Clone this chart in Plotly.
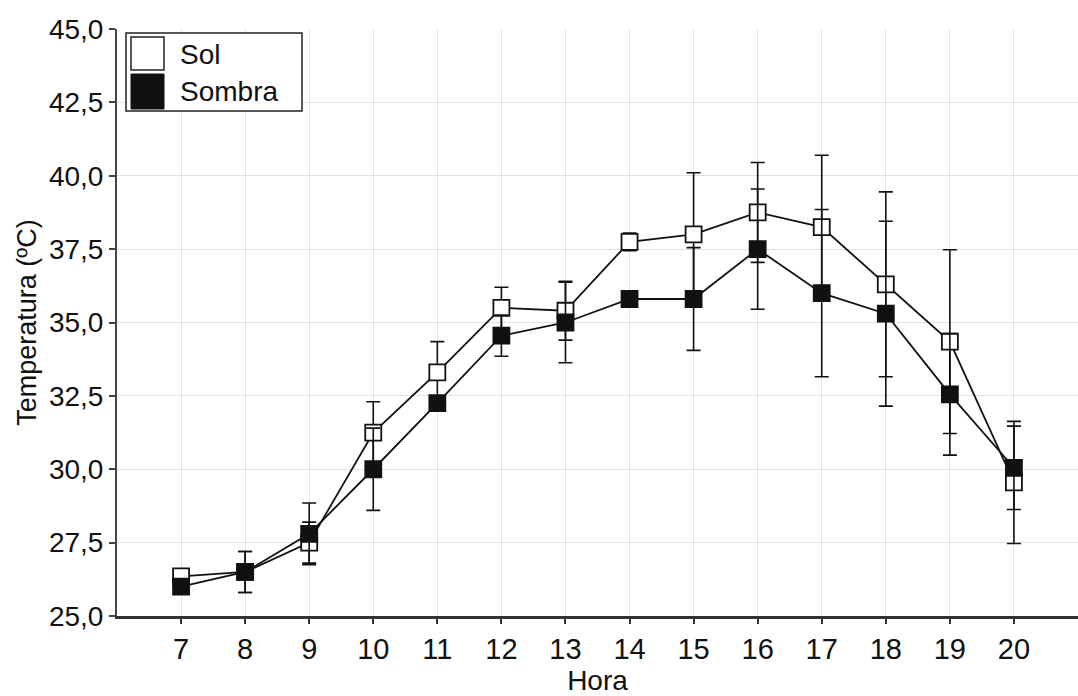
import plotly.graph_objects as go

# ---- data ----
hora = [7, 8, 9, 10, 11, 12, 13, 14, 15, 16, 17, 18, 19, 20]
sol = [26.35, 26.5, 27.5, 31.25, 33.3, 35.5, 35.4, 37.75, 38.0, 38.75, 38.25, 36.3, 34.35, 29.55]
sol_err = [0.15, 0.7, 0.7, 1.05, 1.05, 0.7, 1.0, 0.3, 2.1, 1.7, 2.45, 3.15, 3.13, 2.08]
sombra = [26.0, 26.5, 27.8, 30.0, 32.25, 34.55, 35.0, 35.8, 35.8, 37.5, 36.0, 35.3, 32.55, 30.05]
sombra_err = [0.15, 0.7, 1.05, 1.4, 0.25, 0.7, 1.37, 0.2, 1.75, 2.05, 2.85, 3.15, 2.07, 1.42]

y_ticks = [25.0, 27.5, 30.0, 32.5, 35.0, 37.5, 40.0, 42.5, 45.0]
y_ticktext = ["25,0", "27,5", "30,0", "32,5", "35,0", "37,5", "40,0", "42,5", "45,0"]
series_names = ["Sol", "Sombra"]

W, H = 1078, 696
ML, MR, MT, MB = 117, 0, 29, 80
PW, PH = W - ML - MR, H - MT - MB

def px(x):
    return (x - ML) / PW

def py(y):
    return 1 - (y - MT) / PH

FONT = "Liberation Sans, Arial, sans-serif"
INK = "#111111"

fig = go.Figure()
fig.add_trace(go.Scatter(
    x=hora, y=sol, name=series_names[0], mode="lines+markers",
    line=dict(color=INK, width=1.8),
    marker=dict(symbol="square", size=16, color="white", line=dict(color=INK, width=1.8)),
    error_y=dict(type="data", array=sol_err, visible=True, color=INK, thickness=1.6, width=7),
    showlegend=False,
))
fig.add_trace(go.Scatter(
    x=hora, y=sombra, name=series_names[1], mode="lines+markers",
    line=dict(color=INK, width=1.8),
    marker=dict(symbol="square", size=16, color=INK, line=dict(color=INK, width=1.8)),
    error_y=dict(type="data", array=sombra_err, visible=True, color=INK, thickness=1.6, width=7),
    showlegend=False,
))

# legend drawn as box with large swatches
shapes = [
    dict(type="rect", xref="paper", yref="paper", x0=px(126), x1=px(302), y0=py(111), y1=py(33),
         line=dict(color="#222", width=1.5), fillcolor="white", layer="above"),
    dict(type="rect", xref="paper", yref="paper", x0=px(131), x1=px(164), y0=py(70), y1=py(37),
         line=dict(color="#222", width=1.5), fillcolor="white", layer="above"),
    dict(type="rect", xref="paper", yref="paper", x0=px(131), x1=px(164), y0=py(109), y1=py(74),
         line=dict(color="#111", width=1), fillcolor="#111", layer="above"),
]
annotations = [
    dict(xref="paper", yref="paper", x=px(178), y=py(54), text=series_names[0], showarrow=False,
         xanchor="left", yanchor="middle", font=dict(family=FONT, size=28, color=INK)),
    dict(xref="paper", yref="paper", x=px(178), y=py(92), text=series_names[1], showarrow=False,
         xanchor="left", yanchor="middle", font=dict(family=FONT, size=28, color=INK)),
]

fig.update_layout(
    width=W, height=H,
    margin=dict(l=ML, r=MR, t=MT, b=MB),
    paper_bgcolor="white", plot_bgcolor="white",
    shapes=shapes, annotations=annotations,
    font=dict(family=FONT, color=INK),
)
fig.update_xaxes(
    range=[6, 21], tickvals=hora, ticktext=[str(h) for h in hora],
    showgrid=True, gridcolor="#e2e2e2", gridwidth=1,
    showline=True, linecolor="#333", linewidth=2.5,
    ticks="outside", ticklen=5, tickcolor="#333", tickwidth=1.5,
    tickfont=dict(family=FONT, size=29, color=INK),
    title=dict(text="Hora", font=dict(family=FONT, size=28, color=INK), standoff=8),
    zeroline=False,
)
fig.update_yaxes(
    range=[25, 45], tickvals=y_ticks, ticktext=y_ticktext,
    showgrid=True, gridcolor="#e2e2e2", gridwidth=1,
    showline=True, linecolor="#444", linewidth=2,
    ticks="outside", ticklen=6, tickcolor="#444", tickwidth=1.5,
    tickfont=dict(family=FONT, size=28, color=INK),
    title=dict(text="Temperatura (ºC)", font=dict(family=FONT, size=27, color=INK), standoff=4),
    zeroline=False,
)

fig.write_html("out.html")
